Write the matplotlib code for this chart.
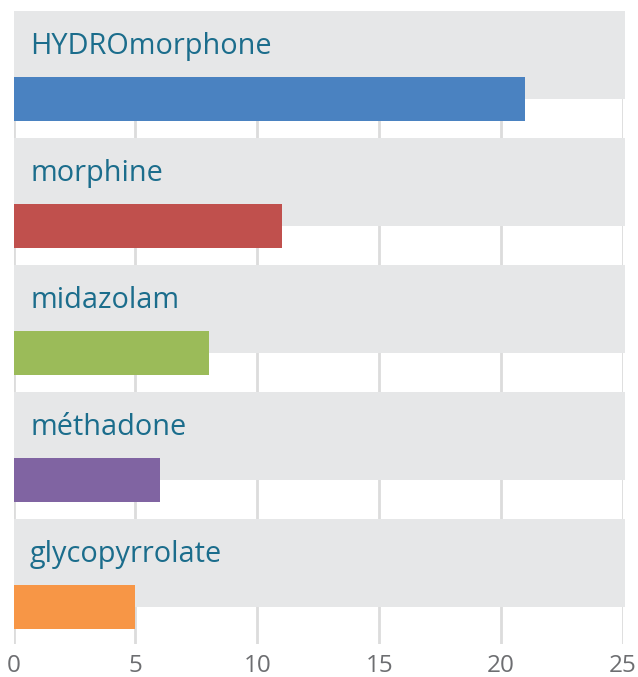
import matplotlib.pyplot as plt
from matplotlib.patches import Rectangle

drugs = ['HYDROmorphone', 'morphine', 'midazolam', 'méthadone', 'glycopyrrolate']
counts = [21, 11, 8, 6, 5]
colors = ['#4a82c1', '#c0504d', '#9bbb59', '#8064a2', '#f79646']
xticks = [0, 5, 10, 15, 20, 25]

plt.rcParams['font.family'] = ['Open Sans', 'DejaVu Sans']

fig = plt.figure(figsize=(6.38, 6.77), dpi=100)
# axes from pixel x 13.5..623 and y 11..644 (row height 127 px)
ax = fig.add_axes([13.5 / 638, 1 - 644 / 677, (623 - 13.5) / 638, 633 / 677])

row = 127.0
band_h = 88 / row
bar_top = 66 / row
bar_h = 44 / row

for x in xticks:
    ax.axvline(x, color='#dcdcdc', lw=2, zorder=0)

for i, (name, val, c) in enumerate(zip(drugs, counts, colors)):
    ax.add_patch(Rectangle((0, i), 25.08, band_h, facecolor='#e6e7e8',
                           edgecolor='none', zorder=1, clip_on=False))
    ax.barh(i + bar_top + bar_h / 2, val, height=bar_h, color=c, zorder=2)
    ax.text(0.68, i + 0.339, name, color='#1b6d8c', fontsize=20.8,
            va='baseline', ha='left', zorder=3)

ax.set_xlim(0, 25)
ax.set_ylim(633 / row, 0)
ax.set_xticks(xticks)
ax.set_yticks([])
ax.tick_params(axis='x', length=0, pad=7, labelsize=17.5, labelcolor='#6d6e71')
for s in ax.spines.values():
    s.set_visible(False)

fig.savefig('out.png', dpi=100)
